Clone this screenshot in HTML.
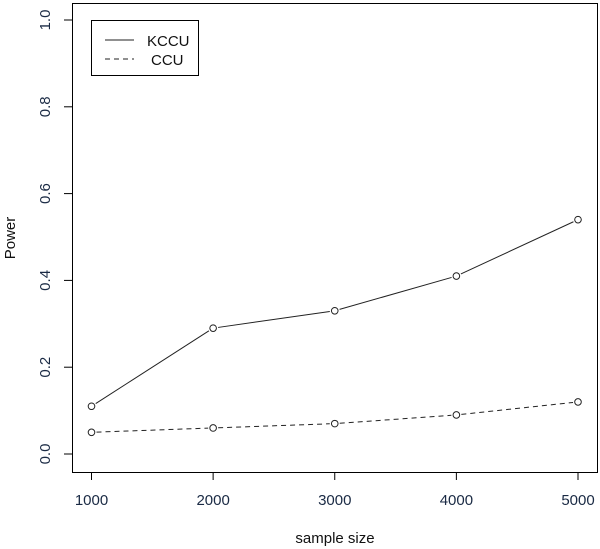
<!DOCTYPE html>
<html><head><meta charset="utf-8"><style>body{margin:0;background:#fff}svg{display:block;font-family:"Liberation Sans",Arial,sans-serif}</style></head>
<body>
<svg width="600" height="549" viewBox="0 0 600 549">
<rect x="0" y="0" width="600" height="549" fill="#fff"/>
<g id="plot"></g>
</svg>
<script>
const categories=[1000,2000,3000,4000,5000];
const kccu=[0.11,0.29,0.33,0.41,0.54];
const ccu=[0.05,0.06,0.07,0.09,0.12];
const xTicks=["1000","2000","3000","4000","5000"];
const yTicks=["0.0","0.2","0.4","0.6","0.8","1.0"];
const NS="http://www.w3.org/2000/svg";
const g=document.getElementById('plot');
const xs=v=>91.5+(v-1000)*(578-91.5)/4000;
const ys=v=>454-v*434;
function mk(t,a,p){const e=document.createElementNS(NS,t);for(const k in a)e.setAttribute(k,a[k]);(p||g).appendChild(e);return e;}
const box=mk('rect',{x:72.5,y:3.5,width:525,height:469,fill:'none',stroke:'#000','stroke-width':1});


xTicks.forEach((t,i)=>{const x=xs(+t);
 const l=mk('line',{x1:x,x2:x,y1:472,y2:480,stroke:'#000'});
 
 
 const tx=mk('text',{x:x,y:505,'text-anchor':'middle','font-size':15,fill:'#1a2a44'});tx.textContent=t;
 
 
});
yTicks.forEach(t=>{const y=ys(+t);
 const l=mk('line',{x1:64,x2:72,y1:y,y2:y,stroke:'#000'});
 
 
 const tx=mk('text',{x:0,y:0,'text-anchor':'middle','font-size':15,fill:'#1a2a44',transform:`translate(50,${y}) rotate(-90)`});tx.textContent=t;
 
 
});
const xt=mk('text',{x:335,y:543,'text-anchor':'middle','font-size':15,fill:'#111'});xt.textContent='sample size';


const yt=mk('text',{x:0,y:0,'text-anchor':'middle','font-size':15,fill:'#111',transform:'translate(15,238) rotate(-90)'});yt.textContent='Power';


function series(vals,dash,name){
 const pts=categories.map((c,i)=>[xs(c),ys(vals[i])]);
 for(let i=0;i<pts.length-1;i++){const [x1,y1]=pts[i],[x2,y2]=pts[i+1];const d=Math.hypot(x2-x1,y2-y1);const ux=(x2-x1)/d,uy=(y2-y1)/d;
  const s=mk('line',{x1:x1+ux*5,y1:y1+uy*5,x2:x2-ux*5,y2:y2-uy*5,stroke:'#222','stroke-width':1,'stroke-dasharray':dash||'none'});
  
  }
 pts.forEach(p=>{const c=mk('circle',{cx:p[0],cy:p[1],r:3.3,fill:'none',stroke:'#222'});
  
  });
}
series(kccu,null,'kccu');
series(ccu,'5,4','ccu');
const lg=mk('g',{});


mk('rect',{x:91.5,y:20.5,width:107,height:55,fill:'#fff',stroke:'#000'},lg);
const l1=mk('line',{x1:105,x2:134,y1:40,y2:40,stroke:'#222'},lg);


const t1=mk('text',{x:147,y:46,'font-size':15,fill:'#111'},lg);t1.textContent='KCCU';


const l2=mk('line',{x1:105,x2:134,y1:59,y2:59,stroke:'#222','stroke-dasharray':'5,4'},lg);


const t2=mk('text',{x:151,y:65,'font-size':15,fill:'#111'},lg);t2.textContent='CCU';


</script>
</body></html>
